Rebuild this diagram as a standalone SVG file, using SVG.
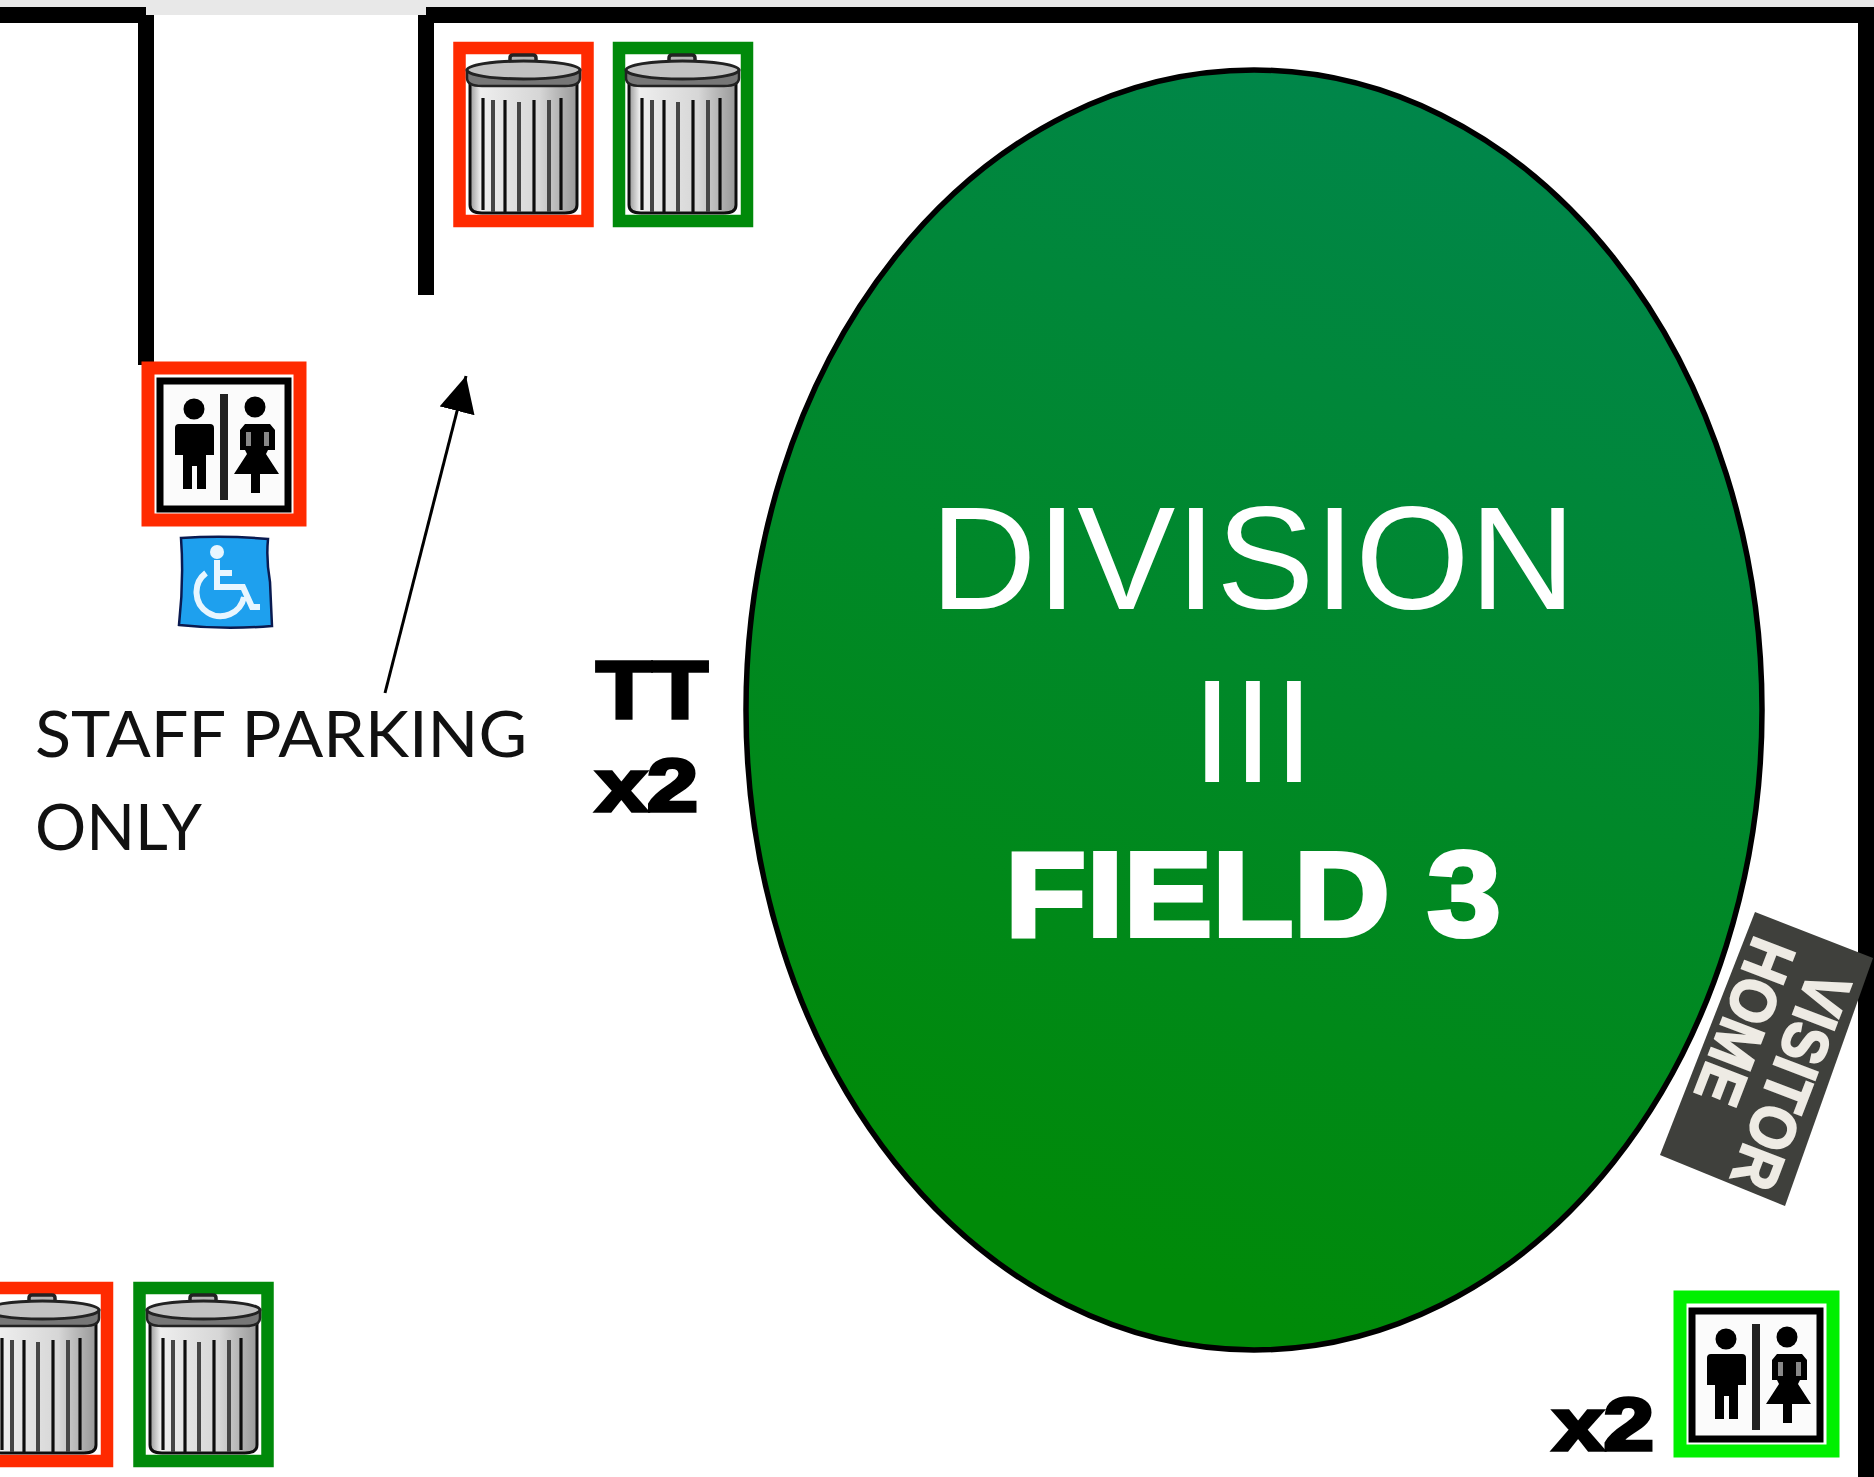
<svg xmlns="http://www.w3.org/2000/svg" xmlns:xlink="http://www.w3.org/1999/xlink" width="1874" height="1477" viewBox="0 0 1874 1477">
<style>
.wall{fill:#000}
.rb{fill:#fff;stroke:#ff2a00;stroke-width:12.5}
.gb{fill:#fff;stroke:#008a0a;stroke-width:12.5}
.big{font-family:"Liberation Sans",Arial,sans-serif;fill:#fff;text-anchor:middle}
.blk{font-family:"Liberation Sans",Arial,sans-serif;font-weight:700;fill:#000;stroke:#000;stroke-width:3.5}
.staff{font-family:"Lato","Open Sans",sans-serif;font-size:64px;fill:#111}
.sign{font-family:"Liberation Sans",Arial,sans-serif;font-weight:700;font-size:64px;fill:#eeebe4;stroke:#eeebe4;stroke-width:2}
.rib{stroke:#111;stroke-width:3.2;fill:none}
.rib2{stroke:#444;stroke-width:4;fill:none}
.soft{filter:url(#soft)}
</style>
<defs>
<filter id="soft" x="-5%" y="-5%" width="110%" height="110%"><feGaussianBlur stdDeviation="0.5"/></filter>
<linearGradient id="field" x1="0.72" y1="0.05" x2="0.42" y2="0.95">
<stop offset="0" stop-color="#00864a"/><stop offset="1" stop-color="#008a08"/>
</linearGradient>
<linearGradient id="can" x1="0" y1="0" x2="1" y2="0">
<stop offset="0" stop-color="#999"/><stop offset="0.1" stop-color="#eee"/><stop offset="0.65" stop-color="#d6d6d6"/><stop offset="0.8" stop-color="#bbb"/><stop offset="1" stop-color="#999"/>
</linearGradient>
<g id="trash">
<path d="M17 40H124V163Q124 171 112 171H29Q17 171 17 163Z" fill="url(#can)" stroke="#111" stroke-width="3"/>
<path class="rib" d="M30 56V168M52 58V170M81 58V170M108 56V168"/>
<path class="rib2" d="M40 58V170M66 60V170M96 58V170"/>
<path d="M57 27V16Q57 13 60 13H80Q83 13 83 16V27Z" fill="#b5b5b5" stroke="#222" stroke-width="3.500"/>
<path d="M14 28H127V36Q127 44 112 44H29Q14 44 14 36Z" fill="#777" stroke="#222" stroke-width="2.500"/>
<ellipse cx="70.500" cy="28" rx="56.500" ry="9" fill="#c2c2c2" stroke="#222" stroke-width="3"/>
</g>
<g id="wc">
<rect x="18" y="19" width="128" height="128" fill="#fbfbfb" stroke="#000" stroke-width="7"/>
<rect x="78" y="32" width="8" height="106" fill="#222"/>
<circle cx="52" cy="47" r="10.500"/>
<path d="M37 62H68Q72 62 72 66V93H64V127H55V104H50V127H41V93H33V66Q33 62 37 62Z"/>
<circle cx="113" cy="45" r="10.500"/>
<path d="M103 62H128L133 68V88H126L124 92L137 112H118V131H109V112H92L105 92L103 88H98V68Z"/>
<rect x="104" y="70" width="5" height="14" fill="#888"/><rect x="122" y="70" width="5" height="14" fill="#888"/>
</g>
<marker id="arr" markerUnits="userSpaceOnUse" markerWidth="40" markerHeight="44" refX="36" refY="18" orient="auto">
<path d="M0 0L36 18L0 36Z" fill="#000"/>
</marker>
</defs>
<rect width="1874" height="1477" fill="#fff"/>
<g id="walls">
<rect x="0" y="0" width="1874" height="8" fill="#e8e8e8"/>
<rect x="146" y="0" width="280" height="15" fill="#e8e8e8"/>
<rect class="wall" x="0" y="7" width="146" height="16"/>
<rect class="wall" x="138" y="15" width="16" height="350"/>
<rect class="wall" x="426" y="7" width="1448" height="16"/>
<rect class="wall" x="418" y="15" width="16" height="280"/>
<rect class="wall" x="1858" y="15" width="16" height="1462"/>
</g>
<g id="field3">
<ellipse cx="1254" cy="710" rx="508" ry="640" fill="url(#field)" stroke="#000" stroke-width="5.500"/>
<text class="big" x="1253" y="609" font-size="147">DIVISION</text>
<text class="big" x="1253" y="782" font-size="147">III</text>
<text class="big" x="1253" y="936" font-size="120" font-weight="700" stroke="#fff" stroke-width="4" textLength="496" lengthAdjust="spacingAndGlyphs">FIELD 3</text>
</g>
<g id="trash-red-top"><rect class="rb" x="459.500" y="48" width="128" height="173"/><use class="soft" xlink:href="#trash" x="453" y="42"/></g>
<g id="trash-green-top"><rect class="gb" x="619" y="48" width="128" height="173"/><use class="soft" xlink:href="#trash" x="612" y="42"/></g>
<g id="trash-red-bottom"><rect class="rb" x="-21" y="1288" width="128" height="173"/><use class="soft" xlink:href="#trash" x="-28" y="1282"/></g>
<g id="trash-green-bottom"><rect class="gb" x="139.500" y="1288" width="128" height="173"/><use class="soft" xlink:href="#trash" x="133" y="1282"/></g>
<g id="restroom-red"><rect x="148" y="368" width="152" height="152" fill="none" stroke="#ff2a00" stroke-width="13"/><use class="soft" xlink:href="#wc" x="142" y="362"/></g>
<g id="restroom-green"><rect x="1680" y="1297" width="153" height="154" fill="none" stroke="#00f000" stroke-width="13"/><use class="soft" xlink:href="#wc" x="1674" y="1292"/></g>
<g id="accessible">
<path d="M181 538Q225 535 268 539Q266 560 270 582L272 626Q225 630 179 625Q184 580 181 538Z" fill="#1ea0ee" stroke="#0a1a50" stroke-width="2.500"/>
<circle cx="217" cy="552" r="7" fill="#e8f6ff"/>
<path d="M217 560V587H243L252 607H260M219 573H232M206 573A24 24 0 1 0 244 597" fill="none" stroke="#e8f6ff" stroke-width="6"/>
</g>
<g id="staff-parking">
<text class="staff" x="35" y="757" textLength="492" lengthAdjust="spacingAndGlyphs">STAFF PARKING</text>
<text class="staff" x="35" y="850">ONLY</text>
</g>
<g id="connectors">
<line x1="385" y1="693" x2="466" y2="376" stroke="#000" stroke-width="3" marker-end="url(#arr)"/>
</g>
<g id="tt">
<text class="blk" x="596" y="718" font-size="82" textLength="112" lengthAdjust="spacingAndGlyphs">TT</text>
<text class="blk" x="596" y="811" font-size="74" textLength="102" lengthAdjust="spacingAndGlyphs">x2</text>
</g>
<text class="blk" id="x2-restroom" x="1553" y="1450" font-size="74" textLength="101" lengthAdjust="spacingAndGlyphs">x2</text>
<g id="team-sign">
<path d="M1755 912L1873 958L1785 1206L1660 1155Z" fill="#3f403c"/>
<g transform="translate(1755 912) rotate(111)">
<text class="sign" x="32" y="-72" textLength="226" lengthAdjust="spacingAndGlyphs">VISITOR</text>
<text class="sign" x="20" y="-8" textLength="172" lengthAdjust="spacingAndGlyphs">HOME</text>
</g>
</g>
</svg>
